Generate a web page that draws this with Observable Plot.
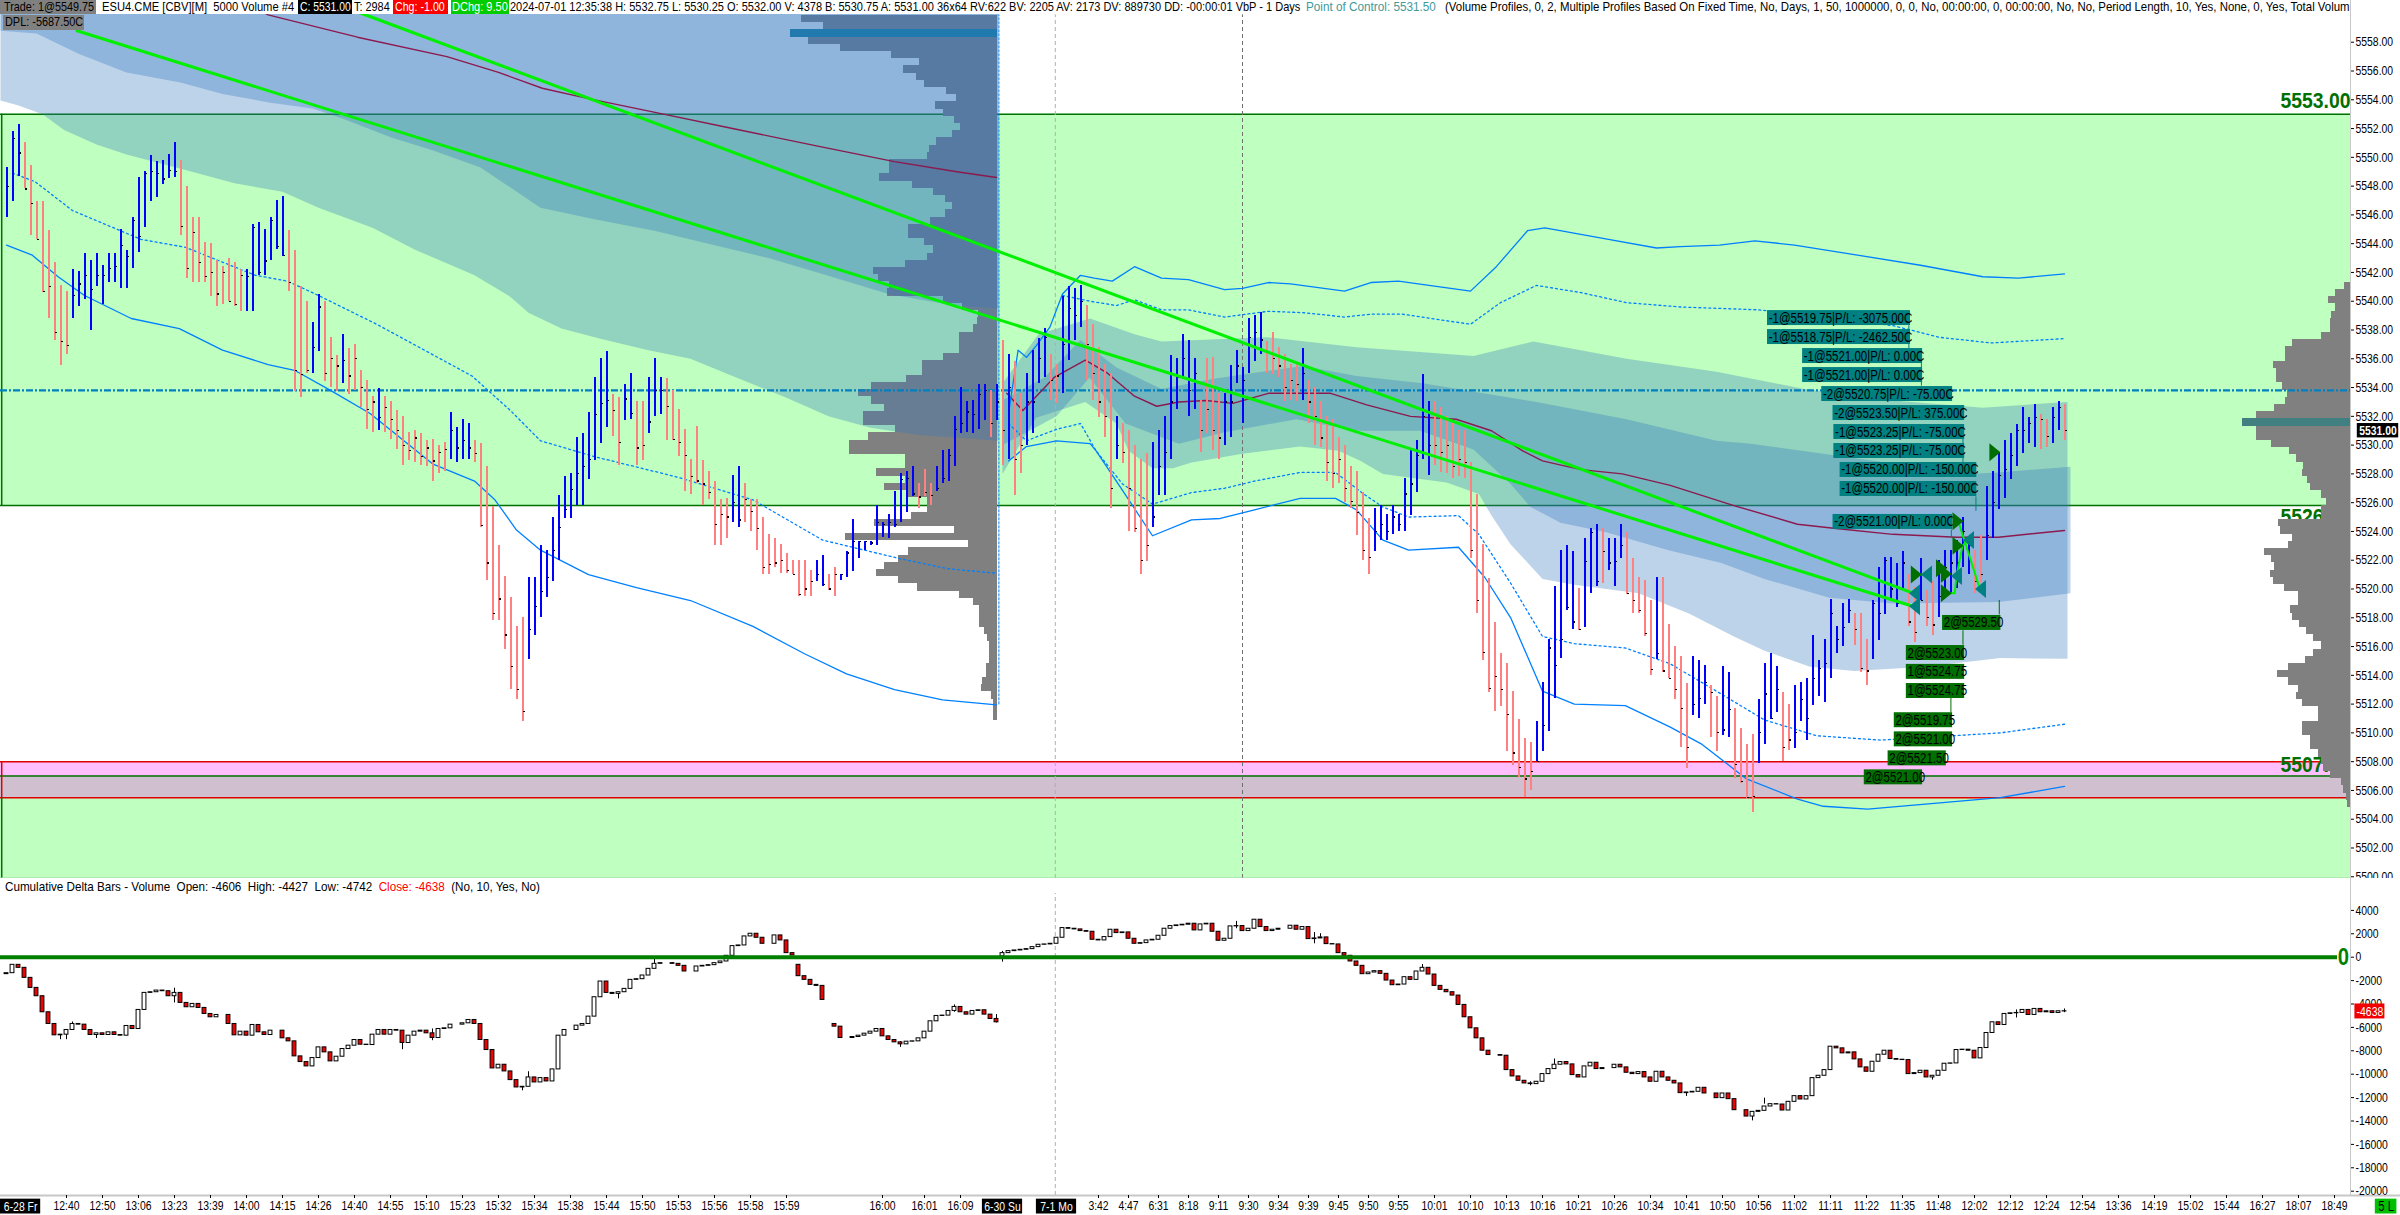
<!DOCTYPE html>
<html><head><meta charset="utf-8">
<script src="https://cdn.jsdelivr.net/npm/d3@7"></script>
<script src="https://cdn.jsdelivr.net/npm/@observablehq/plot@0.6"></script>
<style>
html,body{margin:0;padding:0;background:#fff}
#wrap{position:relative;width:2400px;height:1215px;overflow:hidden;font-family:"Liberation Sans",sans-serif}
#wrap svg{display:block;max-width:none}
.h{position:absolute;white-space:pre;font-size:13px;line-height:14px;height:14px;top:0;color:#000;overflow:hidden}
.s{display:inline-block;transform-origin:0 0}
</style></head><body>
<div id="wrap">
<div id="price"></div><div id="delta"></div>
<div class="h" style="left:0;top:0;width:2350px;background:#fff"></div>
<div class="h" style="left:0;width:96px;background:#808080;padding-left:4px;box-sizing:border-box"><span class="s" data-w="90">Trade: 1@5549.75</span></div>
<div class="h" style="left:102px;width:196px"><span class="s" data-w="192">ESU4.CME [CBV][M]  5000 Volume #4</span></div>
<div class="h" style="left:298px;width:54px;background:#000;color:#fff;padding-left:2px;box-sizing:border-box"><span class="s" data-w="51">C: 5531.00</span></div>
<div class="h" style="left:354px;width:40px"><span class="s" data-w="36">T: 2984</span></div>
<div class="h" style="left:393px;width:55px;background:#f00;color:#fff;padding-left:2px;box-sizing:border-box"><span class="s" data-w="50">Chg: -1.00</span></div>
<div class="h" style="left:451px;width:58px;background:#0c0;color:#fff;padding-left:1px;box-sizing:border-box"><span class="s" data-w="56">DChg: 9.50</span></div>
<div class="h" style="left:510px;width:795px"><span class="s" data-w="790">2024-07-01 12:35:38 H: 5532.75 L: 5530.25 O: 5532.00 V: 4378 B: 5530.75 A: 5531.00 36x64 RV:622 BV: 2205 AV: 2173 DV: 889730 DD: -00:00:01 VbP - 1 Days</span></div>
<div class="h" style="left:1306px;width:135px;color:#3f9a9a"><span class="s" data-w="130">Point of Control: 5531.50</span></div>
<div class="h" style="left:1445px;width:905px"><span class="s" data-w="905">(Volume Profiles, 0, 2, Multiple Profiles Based On Fixed Time, No, Days, 1, 50, 1000000, 0, 0, No, 00:00:00, 0, 00:00:00, No, No, Period Length, 10, Yes, None, 0, Yes, Total Volum</span></div>
<div class="h" style="left:3px;top:15px;width:81px;height:15px;background:#808080;padding-left:2px;box-sizing:border-box"><span class="s" data-w="78">DPL: -5687.50C</span></div>
<div class="h" style="left:5px;top:880px;width:560px"><span class="s" data-w="535">Cumulative Delta Bars - Volume  Open: -4606  High: -4427  Low: -4742  <span style="color:#f00">Close: -4638</span>  (No, 10, Yes, No)</span></div>
</div>
<script>
const FONT = '"Liberation Sans",sans-serif';
// Price bars: values are points above priceBase, bar index is position + 1
const priceBase = 5500;
const barHigh = [
49.3,51.8,52.3,51,49.4,46.9,46.9,44.9,42.7,41.1,
40.7,42.2,42.1,43.3,42.8,43.3,42.5,43.3,43.3,45,
43.5,45.8,48.6,49,50.1,49.7,49.8,50.2,51,49.8,
48,45.8,45.8,44.1,44,42.8,42.4,43,42.7,42.2,
42.2,45.3,45.5,45,45.8,47,47.3,44.9,43.5,41,
40,38.5,40.5,40,37.5,36.2,37.7,36.7,37,35.2,
34.5,33.4,33.9,33.4,33,32.4,32,30.9,31,30.8,
30.3,30.4,30,30.2,32.3,31.2,31.8,31.5,30.3,30.1,
28.5,25.7,23,20.9,19.4,17.4,18,20.8,20.8,23,
22.7,25,26.5,27.8,28,30.5,30.8,32.3,34.7,36,
36.5,33.5,33.3,34.2,35,33,33,34.7,36,34.7,
34.6,33.8,32.5,31.1,29,31.3,28.9,28.2,27.5,26.2,
26.3,27.9,28.5,27.3,26.2,26.2,25,23.8,23.5,23.1,
22.5,22,22,22,21.3,22,22.3,21,21.5,21,
22.6,24.8,23.3,23.3,23.3,25.8,24.6,25.2,26.8,28,
28.2,28.5,27.3,28.3,27.3,28.5,29.6,29.7,32,34,
33,33.1,34.2,34.2,33.8,34.2,
37.3,36.3,35.8,33.6,35,36.6,37.4,38.1,36.3,35.6,
40.3,41,40.9,41.1,39.7,38.4,36.8,35.6,35,32,
31.5,31,30,29,29.4,30.2,31,32,36.2,36,
37.7,37.3,36,33.1,36,36.1,33.6,33.6,35.5,36.6,
35.4,38.8,39,39.2,37.2,37.8,36.8,36.3,35.6,35.6,
36.7,34.5,34,33,32,31.8,30.5,30,28.5,28.2,
26.7,24.9,25.6,25.8,25.2,25.8,25.2,27.7,29.6,30.3,
34.9,33,33,32.6,32,31.5,31,31,28.8,26.6,
23.1,20.7,17.7,15.5,14.8,12.9,10.9,9.6,9.3,10.8,
13.5,16.5,20.2,22.7,23,22.6,20,23.5,24.2,24.5,
24.2,23.5,23.5,24.5,23.9,22.1,20.8,20.6,19.2,20.8,
20.8,17.5,16,15.3,13.4,15.3,15,14.7,13.3,12.5,
14.6,14.2,11.7,10.3,9.2,9.9,12.3,14.8,15.5,14.6,
12.8,12,13.3,13.5,13.8,16.8,15,16.5,19.3,17.4,
19,19.3,18.3,18.3,16.5,19.2,21.5,22.2,22.2,21.8,
22.6,21,20.1,22.1,19.9,20.5,22,22.7,22.7,23.4,
25,23.5,22.7,23.7,
27.1,28.2,29.5,30.3,30.8,31.4,32.6,31.9,32.8,32.1,31.8,32.6,33,32.8];
const barLow = [
45.8,46.9,48.7,47.8,44.6,44.3,40.6,38.8,37.3,35.5,
36.3,38.8,39.6,40.1,38,41,39.8,41.3,41.3,40.9,
40.9,42.3,43.4,45.1,46.9,47.2,48.1,48.5,48.6,44.6,
41.6,41.3,41.3,41.3,40.3,39.6,39.8,40,39.6,39.3,
39.3,39.3,41.8,41.8,42.8,43.6,43.1,40.7,33.7,33.3,
35,35,36.5,34.4,34,33.7,34.3,33.5,33.8,32.6,
31.1,30.9,31,30.9,30.4,29.7,28.6,28.9,28.8,28.6,
28.5,27.5,28,28.2,29,28.8,29,29,28.8,24.3,
20.6,17.8,17.8,15.8,13,12.3,10.8,15.1,16.8,18,
19.4,20.5,22,24.9,24.9,25.8,25.8,27.6,28.9,30.1,
31.2,30.6,28.6,31.7,31.8,28.6,28.9,30.8,32,32.1,
30.3,30.3,29.2,26.8,26.6,27.3,25.8,26.2,23,23,
23.5,24.6,24.3,24.6,24,22.7,21,21,21.5,21.1,
21.1,21,19.5,19.5,19.5,20.5,20.2,19.9,19.5,20.6,
20.8,21.2,22.1,22.7,23,23,23.6,23.5,24.3,24.6,
25.3,26.4,25.6,26.4,25.8,26.8,27.3,27.5,28.5,30.8,
30.9,30.8,31.1,31.7,30.5,31.7,
28.6,29,26.5,28,30,30.8,34.3,34.7,33.1,32.9,
33.6,35.9,37.3,38.2,34.5,33.1,31.9,30.5,25.6,29,
28.7,24,23.9,21,21.9,24.3,26.5,26.5,29,32.5,
34.7,32,32.5,29.5,30.8,29.6,29,30,30.5,34.3,
31.5,35,35.8,36.3,35,34.9,34.7,33,33.1,33,
33.1,31.5,30,29.8,27.5,27,27.3,26,25.6,23.7,
22,21,22.6,23.4,23.4,23.8,24,24,25.1,26.7,
29,27.9,28.6,28.1,28,27.7,27.8,27.7,22.1,18.3,
15,12.8,11.5,11.8,8.7,7.7,6.9,5.5,6,8,
8.7,10.1,12.4,15.2,18.5,17.2,17.1,17.3,19.7,20.2,
20.4,21.3,20.2,22.1,19.6,18.3,18.3,16.7,14,15.1,
14.2,13.8,12.3,9,7.5,11.2,11,12,9.7,8.7,
9.8,9.7,6.8,6.5,5.4,4.5,7.9,9.2,10.9,11.4,
8,8.8,8.9,10.8,9.5,11.9,12.5,12.1,13.8,15.5,
16,17.6,16.1,14.2,13.3,15.1,16.4,18.2,19.2,18.7,
20,17.4,16.3,19.2,17.4,16.8,18,19.7,19.7,20,
21.5,21,19.7,20.4,
22,23.5,25.5,26.3,27.6,28.5,29.4,30.1,29.8,29.7,29.8,30.1,31,30.3];
const barClose = [
48,51.3,50.3,47.8,46.8,44.3,40.7,41,37.8,37.2,
36.9,40.4,41.2,41.8,40.8,41.8,41.8,42.3,42.4,43.9,
43.1,45.6,44.5,48.9,49,48.9,48.5,49.1,49,45.2,
42.3,44.8,42.7,41.7,42,40.5,42,40,39.8,41.8,
41.7,45.1,42,42.8,45.6,43.8,43.2,41.3,35.2,34.9,
35.2,36.8,39.6,35,36,35.5,35.9,34.8,36,34,
32.5,33,31.9,32.6,31.8,31,30,29.6,30.5,29.2,
29.8,28.9,29.5,29.7,31,29.8,30.3,29.8,29.4,24.4,
21.8,18.3,19.3,16.8,14.6,13,11.5,17.2,18.8,19.8,
20.8,22.7,24.3,25.5,26.9,28,28.5,29,32.1,32.9,
33.1,32.4,30.2,33.2,32.2,29.8,30,31.6,33.8,33.8,
32.7,30.4,30.2,29.3,27.8,27.5,27.3,26.7,24.5,25.2,
25,26,24.8,26.2,25.4,24.2,21.5,21.7,21.8,22,
21.3,21,19.6,20,20.5,21,20.3,20,21,21,
22.5,23.3,23.3,23.3,23.2,24.6,24.5,24.6,24.5,27.6,
27.7,26.6,26.4,26.7,26.5,27,27.7,29.3,31.1,31.5,
32.3,32.1,33.5,33.8,31.5,33,
31,34,29,30,33,33,36,37.5,34.5,34.8,
37,39.5,39,40,37,35,33,32,27,30,
29.5,27,24.2,22,23,25,28.5,29.5,33,34.7,
36,33.8,35,31,32.5,31,30.5,33,33,35.5,
34.5,37.5,37.8,37.3,36.5,36,35.5,34,34.5,34.2,
35,33,32,30.5,28.8,28,29,27,26.1,25.3,
22.7,22.2,24,24.5,24,25,24.5,26.6,27.3,29.3,
32,30,30,29.5,30,28.5,29,28.8,22.7,19.2,
15.6,13.1,13.9,13,11.3,8.6,7.6,6.8,7.3,8,
10.5,15.9,14.7,16.5,18.7,17.7,17.2,21.9,23.9,20.5,
22.6,21.8,21.9,23,19.7,19.2,18.5,16.9,14.4,15.5,
14.3,13.8,13,11.7,9,12,12.4,13.5,12.8,10,
10.2,11.6,7.8,6.6,5.5,5.6,10,12.7,11,13,
9,9.5,10,12.3,11,13.8,14.5,14.8,18.3,16.5,
17.3,18.5,17.2,14.5,14.3,19,18.3,22,20,19,
21.8,17.7,17,19.2,18,17.5,19.5,21.5,21.8,21.8,
24,23,20.5,21,
23.7,26,27.9,28.3,29.3,31,31,31.5,31.9,31.8,30.6,31.9,32.6,31];
const barDir = "BBBPPPPPPP"+"PBBBBBBBBB"+"BBBBBBBBBP"+"PPPPPPPPPP"+"BBBBBBBPPP"+"PBBPPPBPPP"+"PPBPPPPPPP"+"PPPPBBBBPP"+"PPPPPPPBBB"+"BBBBBBBBBB"+"BPPBBPPBBB"+"PPPPPPPPPP"+"PBBPPPPPPP"+"PPPPPBBPPB"+"BBBBBBBBBB"+"BBPPPBBBBB"+"BBBBPB"
 +"PBPPBBBBPP"+"BBBBPPPPPB"+"PPPPPBBBBB"+"BBBPPPPBBB"+"BBBBPPPPPP"+"BPPPPPPPPP"+"PPBBBBBBBB"+"BBPPPPPPPP"+"PPPPPPPPPB"+"BBBBBBPBBB"+"PBBBPPPPPB"+"PPPPPBBBPP"+"BBPPPPBBBB"+"PPBBBBBBBB"+"BBPPPBBBBB"+"BPPBPPBBBB"+"BBPP"+"BBBBBBBBBPPBBP";

// Cumulative delta closes, bar index is position + 1
const deltaClose = [
-1366,-652,-909,-1766,-2623,-3337,-4708,-5707,-6678,-6621,
-6221,-5707,-5765,-6221,-6650,-6507,-6650,-6421,-6650,-6707,
-5879,-6136,-4508,-3051,-2994,-2851,-2908,-3337,-3051,-3908,
-4279,-3994,-4336,-4851,-5136,-4936,-4936,-5707,-6678,-6364,
-6707,-5793,-6421,-6650,-6279,-6279,-6935,-7193,-8478,-8963,
-9335,-8621,-7707,-8135,-8906,-8506,-7849,-7564,-7078,-7478,
-7507,-6621,-6221,-6621,-6221,-6279,-7335,-6707,-6364,-6279,
-6507,-6907,-6136,-6079,-5765,-5765,-5650,-5365,-5707,-7078,
-7935,-9506,-9192,-9763,-10505,-11134,-11077,-10277,-10705,-10334,
-10620,-9592,-6707,-6221,-6221,-5850,-5707,-5079,-3423,-2080,
-3051,-3137,-2994,-2709,-1937,-1880,-1566,-995,-567,-509,
-509,-567,-738,-1223,-1223,-795,-738,-681,-509,-367,
119,947,1004,1775,2004,1661,1147,1147,1861,1433,
347,147,-1623,-1937,-2366,-2452,-3651,-5165,-5936,-6907,
-6907,-6821,-6707,-6536,-6364,-6136,-6765,-7078,-7278,-7449,
-7221,-7193,-6935,-6364,-5479,-5022,-4993,-4594,-4251,-4708,
-4908,-4594,-4536,-4908,-5279,-5565,
347,519,576,633,690,861,1061,1090,1147,1661,
2489,2432,2375,2232,2175,1490,1433,1718,2347,2061,
2118,1576,1147,1204,1433,1490,1832,2432,2661,2718,
2775,2861,2289,2803,2861,2175,1404,1576,2632,2661,
2232,2432,3203,2575,2232,2347,2432,2432,2689,2347,
2575,1547,1604,1690,1118,1090,347,119,-367,-738,
-1452,-1309,-1195,-1423,-1995,-2394,-2337,-1709,-1937,-1223,
-909,-1481,-2452,-2794,-2994,-3280,-4079,-5136,-6079,-6935,
-7992,-8363,-8363,-8420,-9649,-10191,-10563,-10791,-10848,-10648,
-9991,-9563,-9192,-8963,-9163,-10077,-10277,-9335,-9020,-9563,
-9477,-9477,-9192,-9420,-9877,-9991,-9820,-10277,-10648,-9791,
-10277,-10563,-10791,-11619,-11562,-11505,-11162,-11648,-11648,-12048,
-11648,-12133,-13076,-13076,-13619,-13219,-13133,-12761,-12562,-12590,
-13104,-12362,-11876,-12162,-11876,-10334,-10134,-9649,-7649,-7792,
-8221,-8135,-8735,-9420,-9791,-8935,-8335,-7992,-8706,-8763,
-8792,-9991,-9906,-9706,-10277,-10134,-9706,-9106,-9077,-7935,
-7906,-7992,-8649,-7764,-6478,-5565,-5793,-4851,-4793,-4765,
-4508,-4936,-4422,-4708,-4622,-4765,-4622,-4638];
const deltaOpenAt  = [133,137,138,139,167];
const deltaOpenVal = [-652,-2452,-5165,-5707,60];
const deltaWickAt   = [10,11,12,16,29,67,72,87,88,103,109,150,159,166,167,206,219,220,237,255,259,281,292,294,322,336,344];
const deltaWickHigh = [-6621,-6221,-5536,-6507,-2650,-6707,-6136,-11077,-9791,-2994,-195,-7221,-4080,-4908,500,3060,2100,2004,-624,-10648,-8706,-11562,-13219,-12047,-10134,-4508,-4427];
const deltaWickLow  = [-7050,-7050,-5765,-6950,-3908,-7907,-7135,-11420,-10705,-3565,-567,-7707,-4708,-5622,-424,2432,1147,1690,-1223,-10991,-9163,-11905,-13990,-12562,-10500,-5193,-4742];

// Value-area and VWAP curves: paired index and price lists
const s1LightIdx = [0,3,7,10.6,16,21,31,39,47,53,62,69,79,85,88,93.5,100,108,115,122,131,138,145,153,166.3];
const s1LightLow = [5553.95,5553.6,5553,5551.9,5550.9,5550.2,5549.1,5548.2,5547.6,5546.5,5545.1,5543.6,5541.8,5540.3,5539.2,5538.1,5537.4,5536.6,5536,5534.8,5533.3,5532,5531.2,5530.7,5530.3];
const s1DarkIdx = [0,6,13,21,30,37,45,52,57,65,72,80,85,90,99,109,118,128,137,148,159,166.3];
const s1DarkLow = [5558.8,5558.6,5557.2,5555.9,5555.2,5554.4,5553.8,5553.4,5552.7,5551.4,5550.5,5549.3,5547.9,5546.5,5545.7,5544.9,5544,5543,5541.9,5540.5,5539.7,5539.5];
const s2LightUpIdx = [167,173,181.6,189,193.5,211,226,245.5,255.5,271,286,300.6,315.5,330.4,344.5];
const s2LightUp = [5534.3,5537.7,5538.8,5537.7,5537.2,5537.5,5536.8,5536.2,5537.2,5536,5535.1,5533.9,5533.1,5532.6,5533];
const s2LightLowIdx = [167,172.6,180.8,186,188,192,195.4,198.5,207,216.6,223,226.7,230.4,241,246.4,248.5,251.7,257,262.3,273,281.4,288.9,294,301.6,309,320.8,333.3,344.5];
const s2LightLow = [5528,5531.9,5533,5531.5,5529.6,5528.4,5528.4,5528.8,5529.4,5529.9,5529.6,5528.9,5528,5527.4,5526.6,5525.1,5523.1,5520.7,5520.3,5519.7,5518.3,5516.7,5515.7,5514.6,5514.3,5514.6,5515.2,5515.15];
const s2DarkUpIdx = [167,174,180,186,193.5,202,217,226,237,256,271,286,291.7,305.6,327.8,333,345];
const s2DarkUp = [5533.1,5534.7,5537.3,5535.4,5533.9,5534.6,5535.5,5534.8,5534.3,5533,5531.8,5530.3,5530.1,5529.3,5528,5528.1,5528.5];
const s2DarkLowIdx = [167,176,181.5,187.5,196.4,204,216,226,236.6,245.5,251.7,255,260,267.6,278,286.8,294,304.8,315.4,333,345];
const s2DarkLow = [5530,5532,5534.7,5531.5,5530.1,5530.9,5531.8,5531,5531,5529.7,5527.3,5525.7,5524.6,5523.95,5522.7,5521.8,5520.7,5519.4,5519,5519.1,5519.7];

const s1VwapIdx = [40,44.6,59.5,74.4,83,90.3,97.8,110.5,122,136,149,159.4,166];
const s1Vwap = [5561,5559.9,5558.35,5557,5555.9,5554.8,5554.1,5553,5552,5550.8,5549.7,5549,5548.6];
const s2VwapIdx = [167.7,170.4,175.6,180.8,184.5,189,192.7,196.4,200.9,205.4,211.3,215.8,221.7,227.7,235,242.6,248.5,253.7,257,263.4,270.3,278.3,288.9,299.5,305.9,315.4,326,333,344];
const s2Vwap = [5533.6,5532.4,5534.7,5535.9,5535,5533.4,5532.7,5533,5533.1,5532.9,5533.6,5533.6,5533.6,5532.8,5532,5531.8,5531,5529.6,5528.9,5528.3,5528,5527.2,5525.8,5524.5,5524.2,5523.8,5523.6,5523.6,5524.07];
const s1SolidIdx = [1,5.3,9.6,14,21.8,29.8,37,44.6,49,55,61.6,72,79,82.4,86,90,98,106,115,125.4,134,141,149,157,166];
const s1Solid = [5543.9,5543.2,5541.7,5540.4,5538.8,5538.1,5536.6,5535.6,5535.2,5533.8,5532.2,5528.7,5527.5,5526.2,5524.1,5522.7,5521,5520.1,5519.2,5517.4,5515.5,5514.1,5513,5512.3,5511.95];
const s1DashIdx = [2,5.8,12,20,23.4,30.8,42.5,47.8,53,62.7,68,78.6,85,90,99,112.6,125.4,137,150,158,166];
const s1Dash = [5548.9,5548.3,5546.3,5544.9,5544.3,5543.75,5541.8,5541.4,5540.4,5538.4,5537.2,5534.8,5532.4,5530.3,5529.2,5527.8,5526.2,5523.4,5522.1,5521.4,5521.1];
const s2TopIdx = [168,169.6,171,172.6,174.9,177,180,182.3,185.3,189,193.5,198,204,207,211.3,215,224,228.4,233,245,249.3,254.5,257.4,268,276,280,286.5,292.4,299,309.5,320,330.4,336.3,344];
const s2Top = [5532.2,5536.6,5536.1,5536.9,5538.2,5540.5,5541.8,5541.6,5541.4,5542.4,5541.6,5541.5,5540.8,5540.9,5541.3,5541.2,5540.7,5541.3,5541.4,5540.7,5542.4,5544.9,5545.1,5544.3,5543.7,5543.8,5543.9,5544.2,5543.9,5543.2,5542.5,5541.7,5541.6,5541.9];
const s2UpDashIdx = [177,181.6,186,189,193.5,198,204,211.3,217.3,224,228.4,233.6,245,250,256,263.4,271,280,293,315.5,323,331.8,344];
const s2UpDash = [5540.4,5540,5539.7,5540.1,5539.4,5539.4,5538.9,5539.3,5539.2,5538.9,5539.1,5539.1,5538.4,5539.9,5541.1,5540.6,5539.9,5539.6,5539.4,5538.3,5537.5,5537.1,5537.4];
const s2LoDashIdx = [168,171,176,180,182.6,187,192,198.5,204,209,216.6,222.5,227.2,230.4,234.7,243,246.4,251.7,257,262.3,270.8,278.3,286.8,294,302.7,313.3,333.3,344];
const s2LoDash = [5531.5,5530.3,5531.1,5531.5,5529.6,5527.3,5525.9,5526.7,5527,5527.5,5528.1,5528.1,5526.6,5525.7,5525,5525.1,5523.8,5520.4,5516.7,5516.2,5515.9,5514.8,5512.7,5510.9,5509.8,5509.5,5510,5510.6];
const s2BotIdx = [168,171,176,181.6,182.6,187,192,198.5,203.3,209,216.6,222.5,226,230.4,234.7,243,247.4,251.7,257,262.3,270.8,278.3,283.6,291,299.5,303.8,311.2,333.3,344];
const s2Bot = [5528.9,5529.9,5530.3,5530.1,5529.6,5526.85,5523.7,5524.8,5524.9,5525.5,5526.3,5526.3,5525.5,5523.4,5522.7,5522.9,5520.8,5518,5512.9,5512,5511.9,5510.4,5509.2,5506.8,5505.4,5504.9,5504.7,5505.5,5506.28];

// Volume profiles: rows of half a point, top row first, volume in arbitrary units
const profile1Top = 5559.85;
const profile1 = [196,174,207,189,157,106,78,94,81,73,51,41,62,54,43,37,45,61,68,70,108,108,118,85,64,52,45,52,67,89,89,73,64,70,92,124,119,108,110,54,35,19,20,24,38,38,38,54,75,75,91,126,139,126,113,134,134,102,129,148,148,92,92,121,92,113,89,70,70,86,123,43,152,29,89,99,113,121,99,80,38,24,18,18,18,13,10,8,8,8,11,11,15,16,6,4,4,4];
const profile1Poc = 2;
const profile2Top = 5541.32;
const profile2 = [6,15,22,15,19,20,20,29,58,65,65,77,74,74,68,63,65,76,94,108,94,94,79,61,54,47,48,43,40,29,24,29,29,72,70,58,62,86,79,76,80,77,66,52,52,60,58,51,44,37,29,37,45,62,73,62,52,54,48,32,32,48,48,40,40,32,29,27,20,9,7,4,3];
const profile2Poc = 19;

// Trades
const trendAIdx = [12.75,318.3]; const trendA = [5558.8,5518.85];
const trendBIdx = [57,318.3];    const trendB = [5560.5,5519.78];
const tradeLine1Idx = [324.3,325.7,326,327,328]; const tradeLine1 = [5519.7,5519.7,5520.9,5523,5523.4];
const tradeLine2Idx = [326.3,329.9]; const tradeLine2 = [5524.7,5520];
const tradeLine3Idx = [319.3,321]; const tradeLine3 = [5521,5521];
const buyIdx = [319.3,323.5,324.3,324.3,326.25,326.25,332.4];
const buyPrice = [5521,5521.45,5521.05,5519.7,5523,5524.7,5529.5];
const sellIdx = [319,319,321,326,328,330];
const sellPrice = [5519.7,5518.8,5521,5520.9,5523.4,5520];
const sellText = ["-1@5519.75|P/L: -3075.00C","-1@5518.75|P/L: -2462.50C","-1@5521.00|P/L: 0.00C","-1@5521.00|P/L: 0.00C","-2@5520.75|P/L: -75.00C","-2@5523.50|P/L: 375.00C","-1@5523.25|P/L: -75.00C","-1@5523.25|P/L: -75.00C","-1@5520.00|P/L: -150.00C","-1@5520.00|P/L: -150.00C","-2@5521.00|P/L: 0.00C"];
const sellLeft = [294.5,294.5,300.35,300.35,303.54,305.42,305.56,305.56,306.6,306.6,305.42];
const sellRight = [318.33,318.33,320.35,320.35,325.35,327.36,327.36,327.36,329.38,329.38,325.35];
const sellMid = [5538.83,5537.51,5536.19,5534.87,5533.55,5532.23,5530.91,5529.59,5528.27,5526.95,5524.66];
const buyText = ["2@5529.50","2@5523.00","1@5524.75","1@5524.75","2@5519.75","2@5521.00","2@5521.50","2@5521.00"];
const buyLeft = [323.68,317.64,317.64,317.64,315.63,315.63,314.6,310.63];
const buyRight = [333.4,327.36,327.36,327.36,325.35,325.35,324.3,320.35];
const buyMid = [5517.64,5515.55,5514.24,5512.91,5510.88,5509.55,5508.23,5506.91];
const stemIdx = [318.06,320.15,325.14,327.08,329.24];
const stemTop = [5538.3,5535.7,5524.1,5530.4,5526.4];
const stemEnd = [5536.7,5534.1,5523.5,5528.8,5525.4];
const buyStemIdx = [333.13,327.08,325.07];
const buyStemTop = [5519.2,5517.1,5512.4];
const buyStemEnd = [5518.2,5516.1,5511.4];

// Time axis
const timeTickIdx = [11,17,23,29,35,41,47,53,59,65,71,77,83,89,95,101,107,113,119,125,131,147,154,160,183,188,193,198,203,208,213,218,223,228,233,239,245,251,257,263,269,275,281,287,293,299,305,311,317,323,329,335,341,347,353,359,365,371,377,383,389];
const timeTickText = ["12:40","12:50","13:06","13:23","13:39","14:00","14:15","14:26","14:40","14:55","15:10","15:23","15:32","15:34","15:38","15:44","15:50","15:53","15:56","15:58","15:59","16:00","16:01","16:09","3:42","4:47","6:31","8:18","9:11","9:30","9:34","9:39","9:45","9:50","9:55","10:01","10:10","10:13","10:16","10:21","10:26","10:34","10:41","10:50","10:56","11:02","11:11","11:22","11:35","11:48","12:02","12:12","12:24","12:54","13:36","14:19","15:02","15:44","16:27","18:07","18:49"];
const dateTickIdx = [3.35,167,176];
const dateTickText = ["6-28 Fr","6-30 Su","7-1 Mo"];

// zones and key levels
const greenZoneTop = 5553, greenZoneBottom = 5525.8;
const lowerZoneTop = 5507, paneBottom = 5499.88, paneTop = 5560.9;
const pinkTop = 5508, pinkBottom = 5505.5;
const pocLevel = 5533.8;
const lastPrice = 5531, lastDelta = -4638;
const levelLabels = [{p:5553.4,t:"5553.00"},{p:5524.55,t:"5526.00"},{p:5507.25,t:"5507.00"}];

const pts = (xs, ys) => xs.map((i,k) => ({i, p: ys[k]}));
const bars = barHigh.map((h,k) => ({i:k+1, high:h+priceBase, low:barLow[k]+priceBase, close:barClose[k]+priceBase, up:barDir[k]==="B"}));
const rows = (arr, top, right) => arr.map((v,k) => ({x1:right - v/6, x2:right, y1: top - k*0.5, y2: top - (k+1)*0.5, k}));
const xEnd = 2350/6;
const p1 = rows(profile1, profile1Top, 166.2), p2 = rows(profile2, profile2Top, xEnd);
const poly = (a,b) => [...a, ...b.slice().reverse()];
const s1Light = poly(pts([0,166.3],[paneTop,paneTop]), pts(s1LightIdx,s1LightLow));
const s1Dark  = poly(pts([0,166.3],[paneTop,paneTop]), pts(s1DarkIdx,s1DarkLow));
const s2Light = poly(pts(s2LightUpIdx,s2LightUp), pts(s2LightLowIdx,s2LightLow));
const s2Dark  = poly(pts(s2DarkUpIdx,s2DarkUp), pts(s2DarkLowIdx,s2DarkLow));

const BLUE="#0080FF", BAND="#3276BE", TEAL="#008080", DGREEN="#006E00", LIME="#00F000";
const CRISP="crispEdges";
const band = d => Plot.line(d,{x:"i",y:"p",fill:BAND,fillOpacity:0.32,stroke:"none"});
const solid = (xs,ys,w=1.3) => Plot.line(pts(xs,ys),{x:"i",y:"p",stroke:BLUE,strokeWidth:w});
const dashed = (xs,ys) => Plot.line(pts(xs,ys),{x:"i",y:"p",stroke:BLUE,strokeWidth:1.3,strokeDasharray:"2,3"});
const vwap = (xs,ys) => Plot.line(pts(xs,ys),{x:"i",y:"p",stroke:"#8B1A4E",strokeWidth:1.4});
const limeLine = (xs,ys,w) => Plot.line(pts(xs,ys),{x:"i",y:"p",stroke:LIME,strokeWidth:w});
const triShape = {draw(c,l,r){c.moveTo(-r,0);c.lineTo(r,0);c.lineTo(0,-l);c.closePath();}};
const sellRows = sellText.map((t,k)=>({t,l:sellLeft[k],r:sellRight[k],m:sellMid[k]}));
const buyRows = buyText.map((t,k)=>({t,l:buyLeft[k],r:buyRight[k],m:buyMid[k]}));
const boxH = 0.52;

const pricePlot = Plot.plot({
  width:2400,height:878,marginTop:0,marginBottom:0,marginLeft:0,marginRight:50,
  style:{fontFamily:FONT,fontSize:"13px",background:"transparent",overflow:"hidden"},
  x:{domain:[0,xEnd],axis:null},
  y:{domain:[paneBottom,paneTop],axis:null},
  marks:[
    Plot.rect([0],{x1:0,x2:xEnd,y1:greenZoneBottom,y2:greenZoneTop,fill:"#BFFFBF"}),
    Plot.rect([0],{x1:0,x2:xEnd,y1:paneBottom,y2:lowerZoneTop,fill:"#BFFFBF"}),
    Plot.rect([0],{x1:0,x2:xEnd,y1:pinkBottom,y2:pinkTop,fill:"#FFBFFF"}),
    Plot.rect([0],{x1:0,x2:xEnd,y1:pinkBottom,y2:lowerZoneTop,fill:"#CFBFCF"}),
    Plot.ruleY([greenZoneTop,greenZoneBottom,lowerZoneTop],{stroke:"#007000",strokeWidth:1.5}),
    Plot.ruleY([pinkTop,pinkBottom],{stroke:"#E00000",strokeWidth:1.5}),
    Plot.ruleX([0.2],{y1:greenZoneBottom,y2:greenZoneTop,stroke:"#007000",strokeWidth:1.5}),
    Plot.ruleX([0.2],{y1:paneBottom,y2:pinkBottom,stroke:"#007000",strokeWidth:1.5}),
    Plot.ruleX([0.2],{y1:pinkBottom,y2:pinkTop,stroke:"#E00000",strokeWidth:1.5}),
    Plot.text(levelLabels,{x:xEnd,y:"p",text:"t",textAnchor:"end",lineAnchor:"bottom",fontSize:22,fontWeight:"bold",fill:"#007000"}),
    Plot.rect(p1.filter(d=>d.k!==profile1Poc),{x1:"x1",x2:"x2",y1:"y1",y2:"y2",fill:"#808080",shapeRendering:CRISP}),
    Plot.rect(p1.filter(d=>d.k===profile1Poc),{x1:"x1",x2:"x2",y1:"y1",y2:"y2",fill:"#0E7F9C",shapeRendering:CRISP}),
    Plot.rect(p2.filter(d=>d.k!==profile2Poc),{x1:"x1",x2:"x2",y1:"y1",y2:"y2",fill:"#808080",shapeRendering:CRISP}),
    Plot.rect(p2.filter(d=>d.k===profile2Poc),{x1:"x1",x2:"x2",y1:"y1",y2:"y2",fill:"#408080",shapeRendering:CRISP}),
    band(s1Light),band(s1Dark),band(s2Light),band(s2Dark),
    Plot.ruleX([175.8],{y1:paneBottom,y2:5559.9,stroke:"#B0B0B0",strokeDasharray:"4,3"}),
    Plot.ruleX([207],{y1:paneBottom,y2:5559.9,stroke:"#707070",strokeDasharray:"4,3"}),
    Plot.ruleY([pocLevel],{x1:0,x2:xEnd,stroke:"#0080C0",strokeWidth:2.2,strokeDasharray:"7,2,2,2"}),
    Plot.ruleX([166.4],{y1:5511.95,y2:5559.9,stroke:BLUE,strokeWidth:1,strokeDasharray:"3,1"}),
    vwap(s1VwapIdx,s1Vwap),vwap(s2VwapIdx,s2Vwap),
    solid(s1SolidIdx,s1Solid),dashed(s1DashIdx,s1Dash),
    solid(s2TopIdx,s2Top),dashed(s2UpDashIdx,s2UpDash),dashed(s2LoDashIdx,s2LoDash),solid(s2BotIdx,s2Bot),
    Plot.ruleX(bars.filter(d=>!d.up),{x:"i",y1:"low",y2:"high",stroke:"#FF8080",strokeWidth:2,shapeRendering:CRISP}),
    Plot.ruleX(bars.filter(d=>d.up),{x:"i",y1:"low",y2:"high",stroke:"#0000FF",strokeWidth:2,shapeRendering:CRISP}),
    Plot.link(bars,{x1:"i",x2:d=>d.i+0.4,y1:"close",y2:"close",stroke:"#000",strokeWidth:1.2,shapeRendering:CRISP}),
    limeLine(trendAIdx,trendA,3),limeLine(trendBIdx,trendB,3),
    limeLine(tradeLine1Idx,tradeLine1,2),limeLine(tradeLine2Idx,tradeLine2,2),limeLine(tradeLine3Idx,tradeLine3,2),
    Plot.ruleX(pts(stemIdx,stemTop).map((d,k)=>({...d,e:stemEnd[k]})),{x:"i",y1:"p",y2:"e",stroke:TEAL}),
    Plot.ruleX(pts(buyStemIdx,buyStemTop).map((d,k)=>({...d,e:buyStemEnd[k]})),{x:"i",y1:"p",y2:"e",stroke:DGREEN}),
    Plot.rect(sellRows,{x1:"l",x2:"r",y1:d=>d.m-boxH,y2:d=>d.m+boxH,fill:TEAL}),
    Plot.text(sellRows,{x:d=>d.l+0.2,y:"m",text:"t",textAnchor:"start",fontSize:14,fill:"#000"}),
    Plot.rect(buyRows,{x1:"l",x2:"r",y1:d=>d.m-boxH,y2:d=>d.m+boxH,fill:DGREEN}),
    Plot.text(buyRows,{x:d=>d.l+0.2,y:"m",text:"t",textAnchor:"start",fontSize:14,fill:"#000"}),
    Plot.vector(pts(sellIdx,sellPrice),{x:"i",y:"p",length:11,r:9,rotate:-90,shape:triShape,fill:TEAL,stroke:"none"}),
    Plot.vector(pts(buyIdx,buyPrice),{x:"i",y:"p",length:11,r:9,rotate:90,shape:triShape,fill:DGREEN,stroke:"none"}),
    Plot.ruleX([xEnd],{stroke:"#C8C8C8"}),
    Plot.axisY({anchor:"right",ticks:d3.range(5500,5559,2),tickFormat:d=>d.toFixed(2),tickSize:3,tickPadding:2,label:null,fontSize:13}),
    Plot.rect([lastPrice],{x1:392.8,x2:399.7,y1:d=>d-0.5,y2:d=>d+0.5,fill:"#000"}),
    Plot.text([lastPrice],{x:396.25,y:d=>d,text:d=>d.toFixed(2),fill:"#fff",fontSize:13,fontWeight:"bold"}),
    Plot.ruleY([paneBottom],{stroke:"#A0DCA0",strokeWidth:2,x1:0,x2:xEnd})
  ]
});
document.getElementById("price").append(pricePlot);

const opens = new Map(deltaOpenAt.map((i,k)=>[i,deltaOpenVal[k]]));
const wicks = new Map(deltaWickAt.map((i,k)=>[i,[deltaWickHigh[k],deltaWickLow[k]]]));
const candles = deltaClose.map((c,k)=>{
  const i=k+1, o = opens.has(i)?opens.get(i):(k?deltaClose[k-1]:-1450), w = wicks.get(i);
  return {i,open:o,close:c,high:w?w[0]:Math.max(o,c),low:w?w[1]:Math.min(o,c),up:c>=o};
});
const dy0=6726, dy1=-20368;
const deltaPlot = Plot.plot({
  width:2400,height:337,marginTop:0,marginBottom:20,marginLeft:0,marginRight:50,
  style:{fontFamily:FONT,fontSize:"13px",background:"transparent",overflow:"hidden"},
  x:{domain:[0,xEnd],axis:null},
  y:{domain:[dy1,dy0],axis:null},
  marks:[
    Plot.ruleX([175.8],{y1:dy1,y2:5444,stroke:"#B0B0B0",strokeDasharray:"4,3"}),
    Plot.ruleX(candles,{x:"i",y1:"low",y2:"high",stroke:"#000"}),
    Plot.rect(candles,{x1:d=>d.i-0.32,x2:d=>d.i+0.32,y1:"open",y2:"close",fill:d=>d.up?"#FFFFFF":"#F00000",stroke:"#000",strokeWidth:1}),
    Plot.ruleY([0],{x1:0,x2:389.5,stroke:"#007F00",strokeWidth:4}),
    Plot.text([0],{x:390.5,y:0,text:d=>String(d),fontSize:23,fontWeight:"bold",fill:"#007F00"}),
    Plot.ruleX([xEnd],{y1:dy1,y2:dy0,stroke:"#C8C8C8"}),
    Plot.ruleY([dy1],{x1:0,x2:400,stroke:"#C8C8C8",strokeWidth:2}),
    Plot.axisY({anchor:"right",ticks:d3.range(-20000,4001,2000),tickFormat:d=>String(d),tickSize:3,tickPadding:2,label:null,fontSize:13}),
    Plot.rect([lastDelta],{x1:392.4,x2:397.4,y1:d=>d-640,y2:d=>d+640,fill:"#F00000"}),
    Plot.text([lastDelta],{x:394.9,y:d=>d,text:d=>String(d),fill:"#fff",fontSize:13}),
    Plot.axisX({anchor:"bottom",ticks:timeTickIdx,tickFormat:d=>timeTickText[timeTickIdx.indexOf(d)],tickSize:3,tickPadding:2,label:null,fontSize:13}),
    Plot.rect(dateTickIdx,{x1:d=>d-3.35,x2:d=>d+3.35,y1:-20680,y2:-21950,fill:"#000"}),
    Plot.text(dateTickIdx,{x:d=>d,y:-21330,text:(d,k)=>dateTickText[k],fill:"#fff",fontSize:13}),
    Plot.rect(["5L"],{x1:395.8,x2:399.4,y1:-20680,y2:-21950,fill:"#00C000"}),
    Plot.text(["5 L"],{x:397.6,y:-21330,text:d=>d,fill:"#000",fontSize:14})
  ]
});
document.getElementById("delta").append(deltaPlot);

// the original face is a condensed one: squeeze the installed sans to the same widths
document.querySelectorAll("#wrap svg text").forEach(t=>{
  const L=t.getComputedTextLength(), fs=parseFloat(getComputedStyle(t).fontSize);
  const f=fs>=20?0.88:(fs>13?0.82:0.8);
  t.setAttribute("textLength",L*f); t.setAttribute("lengthAdjust","spacingAndGlyphs");
});
document.querySelectorAll(".s").forEach(s=>{
  s.style.transform=`scaleX(${(+s.dataset.w)/s.offsetWidth})`;
});
</script>
</body></html>
